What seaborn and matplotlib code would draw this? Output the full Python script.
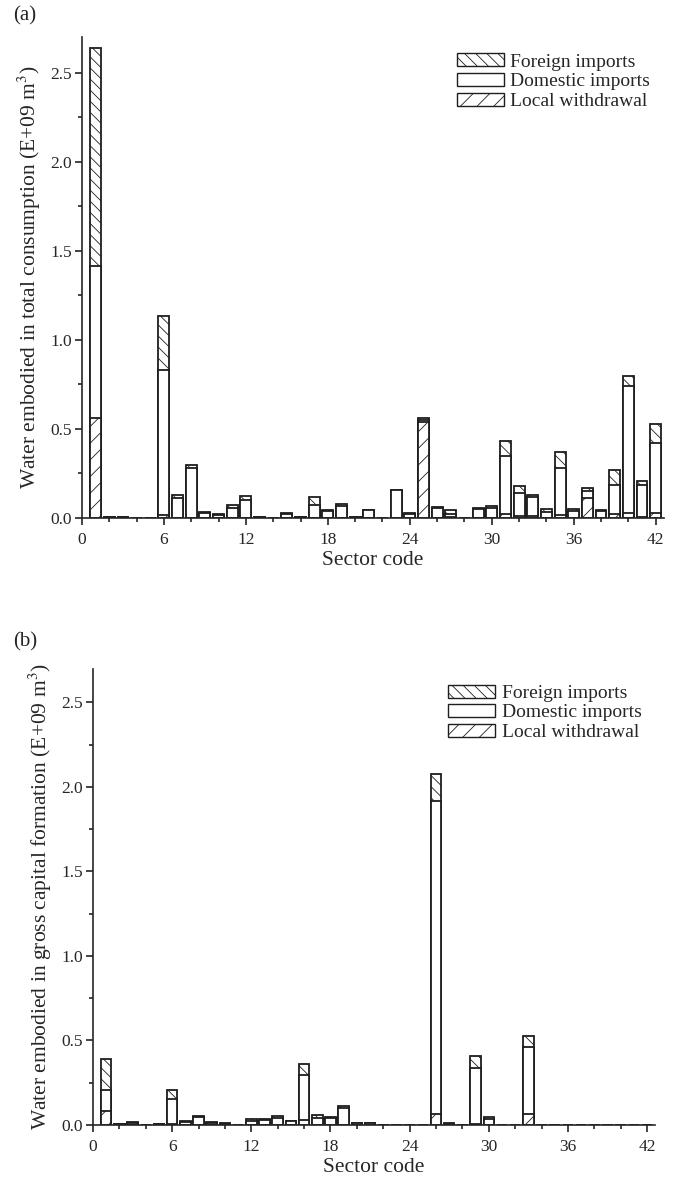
import numpy as np
import pandas as pd
import matplotlib
matplotlib.use("Agg")
import matplotlib.pyplot as plt
import seaborn as sns
from matplotlib.patches import Patch
from matplotlib.ticker import MultipleLocator, FormatStrFormatter

sectors = list(range(1, 43))

# Panel (a): water embodied in total consumption (E+09 m3)
a_local = [0.56, 0, 0, 0, 0, 0.015, 0, 0, 0, 0,
           0, 0, 0, 0, 0, 0, 0, 0, 0, 0,
           0, 0, 0, 0, 0.54, 0, 0.005, 0, 0, 0,
           0.02, 0.01, 0.01, 0, 0.015, 0, 0.11, 0, 0.025, 0.03,
           0.005, 0.03]
a_domestic = [0.855, 0.005, 0.003, 0, 0, 0.815, 0.11, 0.28, 0.028, 0.019,
              0.058, 0.10, 0.003, 0, 0.023, 0.005, 0.073, 0.037, 0.07, 0.005,
              0.044, 0, 0.156, 0.022, 0.012, 0.055, 0.018, 0, 0.048, 0.055,
              0.328, 0.129, 0.106, 0.035, 0.268, 0.038, 0.043, 0.038, 0.16, 0.713,
              0.18, 0.393]
a_foreign = [1.225, 0, 0, 0, 0, 0.307, 0.017, 0.016, 0.004, 0.003,
             0.015, 0.022, 0, 0, 0.003, 0, 0.043, 0.006, 0.007, 0,
             0.003, 0, 0.002, 0.004, 0.008, 0.005, 0.02, 0, 0.006, 0.014,
             0.086, 0.039, 0.015, 0.017, 0.089, 0.011, 0.016, 0.007, 0.085, 0.057,
             0.023, 0.105]

# Panel (b): water embodied in gross capital formation (E+09 m3)
b_local = [0.085, 0, 0, 0, 0, 0.005, 0, 0, 0, 0,
           0, 0, 0, 0, 0, 0.028, 0, 0, 0, 0,
           0, 0, 0, 0, 0, 0.067, 0, 0, 0.005, 0,
           0, 0, 0.063, 0, 0, 0, 0, 0, 0, 0,
           0, 0]
b_domestic = [0.122, 0.003, 0.012, 0, 0.004, 0.147, 0.018, 0.046, 0.012, 0.008,
              0, 0.026, 0.027, 0.044, 0.021, 0.268, 0.039, 0.041, 0.099, 0.009,
              0.009, 0.002, 0, 0, 0, 1.852, 0.008, 0, 0.33, 0.037,
              0, 0, 0.399, 0, 0, 0.002, 0, 0, 0, 0,
              0.001, 0]
b_foreign = [0.182, 0, 0.005, 0, 0, 0.055, 0.008, 0.005, 0.004, 0.002,
             0, 0.008, 0.007, 0.007, 0.003, 0.063, 0.018, 0.008, 0.011, 0.003,
             0.003, 0, 0, 0, 0, 0.156, 0.004, 0, 0.073, 0.012,
             0, 0, 0.065, 0, 0, 0, 0, 0, 0, 0,
             0, 0]

series_labels = ["Foreign imports", "Domestic imports", "Local withdrawal"]
ylabels = ["Water embodied in total consumption (E+09 m$^3$)",
           "Water embodied in gross capital formation (E+09 m$^3$)"]
panel_tags = ["(a)", "(b)"]

sns.set_style("ticks")
plt.rcParams["font.family"] = ["Liberation Serif", "DejaVu Serif"]
plt.rcParams["mathtext.fontset"] = "stix"
plt.rcParams["hatch.linewidth"] = 0.6
plt.rcParams["axes.linewidth"] = 1.2

EDGE = "#1e1e1e"
H_FOREIGN = "\\\\\\"
H_LOCAL = "//"

fig = plt.figure(figsize=(6.75, 11.78), dpi=100)
ax_a = fig.add_axes([0.1215, 0.5603, 0.862, 0.408])
ax_b = fig.add_axes([0.1378, 0.0450, 0.8326, 0.3874])


def draw(ax, local, domestic, foreign, ylabel):
    df = pd.DataFrame({"sector": sectors, "local": local,
                       "domestic": domestic, "foreign": foreign})
    df["ld"] = df["local"] + df["domestic"]
    df["total"] = df["ld"] + df["foreign"]
    common = dict(data=df, x="sector", native_scale=True, errorbar=None,
                  color="white", edgecolor=EDGE, linewidth=1.3,
                  saturation=1, ax=ax)
    sns.barplot(y="total", hatch=H_FOREIGN, **common)
    sns.barplot(y="ld", **common)
    sns.barplot(y="local", hatch=H_LOCAL, **common)
    ax.set_xlim(0, 42.6)
    ax.set_ylim(0, 2.7)
    ax.xaxis.set_major_locator(MultipleLocator(6))
    ax.xaxis.set_minor_locator(MultipleLocator(2))
    ax.yaxis.set_major_locator(MultipleLocator(0.5))
    ax.yaxis.set_minor_locator(MultipleLocator(0.25))
    ax.yaxis.set_major_formatter(FormatStrFormatter("%.1f"))
    ax.tick_params(axis="both", which="major", direction="out", length=5,
                   width=1.1, labelsize=12.5, color="#111111")
    ax.tick_params(axis="x", which="major", pad=5)
    ax.tick_params(axis="y", which="major", pad=2.5)
    ax.tick_params(axis="both", which="minor", direction="out", length=2.8,
                   width=1.1, color="#111111")
    ax.set_xlabel("Sector code", fontsize=15.5, labelpad=2)
    ax.set_ylabel(ylabel, fontsize=15.5, labelpad=5)
    sns.despine(ax=ax)
    handles = [Patch(facecolor="white", edgecolor=EDGE, hatch=H_FOREIGN, linewidth=1.0),
               Patch(facecolor="white", edgecolor=EDGE, linewidth=1.0),
               Patch(facecolor="white", edgecolor=EDGE, hatch=H_LOCAL, linewidth=1.0)]
    ax.legend(handles, series_labels, loc="upper right",
              bbox_to_anchor=(1.0, 0.995), frameon=False, fontsize=14,
              handlelength=2.4, handleheight=0.65, handletextpad=0.35,
              labelspacing=0.12, borderaxespad=0.3)


draw(ax_a, a_local, a_domestic, a_foreign, ylabels[0])
draw(ax_b, b_local, b_domestic, b_foreign, ylabels[1])

fig.text(0.02, 0.9865, panel_tags[0], fontsize=15, va="center", ha="left")
fig.text(0.02, 0.455, panel_tags[1], fontsize=15, va="center", ha="left")

fig.savefig("out.png", dpi=100)
